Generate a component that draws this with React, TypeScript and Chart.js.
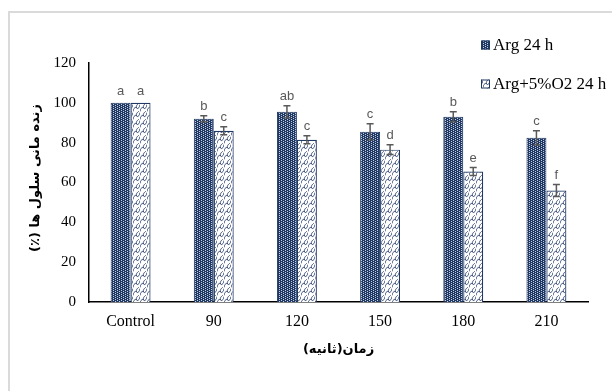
import React, { useEffect, useRef } from "react";
import { Chart, registerables } from "chart.js";

Chart.register(...registerables);

const categories = ["Control", "90", "120", "150", "180", "210"];
const seriesNames = ["Arg 24 h", "Arg+5%O2 24 h"];
const argValues = [100, 92, 95.5, 85.5, 93, 82.5];
const argO2Values = [100, 86, 81.5, 76.5, 65.5, 56];
const argErrors = [0, 1.5, 3, 4, 2.5, 3.5];
const argO2Errors = [0, 2, 2, 2.5, 2, 3];
const argLetters = ["a", "b", "ab", "c", "b", "c"];
const argO2Letters = ["a", "c", "c", "d", "e", "f"];
const yMin = 0;
const yMax = 120;
const yStep = 20;
const xTitle = "زمان(ثانیه)";
const yTitle = "زنده مانی سلول ها (٪)";

const NAVY = "#1f3864";

function makeDotPattern(ctx: CanvasRenderingContext2D) {
  const c = document.createElement("canvas");
  c.width = 4;
  c.height = 2;
  const g = c.getContext("2d")!;
  g.fillStyle = NAVY;
  g.fillRect(0, 0, 4, 2);
  g.fillStyle = "#c3cde0";
  g.fillRect(1, 0, 1, 1);
  g.fillRect(3, 1, 1, 1);
  return ctx.createPattern(c, "repeat")!;
}

function makeWavePattern(ctx: CanvasRenderingContext2D) {
  const c = document.createElement("canvas");
  c.width = 7;
  c.height = 8;
  const g = c.getContext("2d")!;
  g.fillStyle = "#ffffff";
  g.fillRect(0, 0, 7, 8);
  g.strokeStyle = "#2c4370";
  g.lineWidth = 0.9;
  g.beginPath();
  g.moveTo(0, 7.5);
  g.bezierCurveTo(0.5, 4, 2.5, 2.5, 3.5, 4);
  g.bezierCurveTo(4.5, 5.5, 6.5, 4, 7, 0.5);
  g.stroke();
  g.beginPath();
  g.moveTo(3.5, 4);
  g.bezierCurveTo(3, 2, 4, 0.5, 5, 0);
  g.stroke();
  g.beginPath();
  g.moveTo(5, 8);
  g.lineTo(6, 7.5);
  g.stroke();
  return ctx.createPattern(c, "repeat")!;
}

export default function App() {
  const ref = useRef<HTMLCanvasElement | null>(null);

  useEffect(() => {
    const canvas = ref.current!;
    const ctx = canvas.getContext("2d")!;
    const dotPattern = makeDotPattern(ctx);
    const wavePattern = makeWavePattern(ctx);
    const errors = [argErrors, argO2Errors];
    const letters = [argLetters, argO2Letters];
    const fills = [dotPattern, wavePattern];

    const decorPlugin = {
      id: "decor",
      afterDatasetsDraw(chart: any) {
        const c = chart.ctx as CanvasRenderingContext2D;
        const yScale = chart.scales.y;
        c.save();
        chart.data.datasets.forEach((ds: any, di: number) => {
          const meta = chart.getDatasetMeta(di);
          meta.data.forEach((bar: any, i: number) => {
            const v = ds.data[i] as number;
            const e = errors[di][i];
            const x = bar.x;
            const yTop = yScale.getPixelForValue(v + e);
            const yBot = yScale.getPixelForValue(v - e);
            if (e > 0) {
              c.strokeStyle = "#595959";
              c.lineWidth = 1.5;
              c.beginPath();
              c.moveTo(x, yTop);
              c.lineTo(x, yBot);
              c.moveTo(x - 3.5, yTop);
              c.lineTo(x + 3.5, yTop);
              c.moveTo(x - 3.5, yBot);
              c.lineTo(x + 3.5, yBot);
              c.stroke();
            }
            c.fillStyle = "#595959";
            c.font = "13px 'Liberation Sans', 'DejaVu Sans', sans-serif";
            c.textAlign = "center";
            c.textBaseline = "bottom";
            c.fillText(letters[di][i], x, yTop - (e > 0 ? 3 : 5));
          });
        });
        c.restore();
      },
      afterDraw(chart: any) {
        const c = chart.ctx as CanvasRenderingContext2D;
        const area = chart.chartArea;
        c.save();
        // legend
        const legendX = 481;
        const legendYs = [45, 84];
        c.font = "17px 'Liberation Serif', 'Times New Roman', serif";
        c.textBaseline = "middle";
        c.textAlign = "left";
        seriesNames.forEach((name, i) => {
          const y = legendYs[i];
          c.fillStyle = fills[i];
          c.fillRect(legendX, y - 4.5, 9, 9);
          c.strokeStyle = NAVY;
          c.lineWidth = 1;
          c.strokeRect(legendX + 0.5, y - 4, 8, 8);
          c.fillStyle = "#000";
          c.fillText(name, legendX + 12, y + 1);
        });
        // x title
        c.font = "bold 13px 'DejaVu Sans', sans-serif";
        c.direction = "rtl";
        c.textAlign = "center";
        c.textBaseline = "middle";
        c.fillStyle = "#000";
        c.fillText(xTitle, (area.left + area.right) / 2, 350);
        // y title
        c.translate(36, 178);
        c.rotate(-Math.PI / 2);
        c.fillText(yTitle, 0, 0);
        c.restore();
      },
    };

    const chart = new Chart(ctx, {
      type: "bar",
      data: {
        labels: categories,
        datasets: [
          {
            label: seriesNames[0],
            data: argValues,
            backgroundColor: dotPattern,
            borderColor: NAVY,
            borderWidth: 1,
            categoryPercentage: 0.48,
            barPercentage: 1.0,
          },
          {
            label: seriesNames[1],
            data: argO2Values,
            backgroundColor: wavePattern,
            borderColor: NAVY,
            borderWidth: 1.2,
            categoryPercentage: 0.48,
            barPercentage: 1.0,
          },
        ],
      },
      options: {
        responsive: false,
        animation: false,
        devicePixelRatio: 1,
        layout: { padding: { left: 0, top: 63, right: 24, bottom: 44 } },
        plugins: {
          legend: { display: false },
          tooltip: { enabled: false },
          title: { display: false },
        },
        scales: {
          x: {
            grid: { display: false, drawTicks: false },
            border: { display: true, color: "#000", width: 1.5 },
            ticks: {
              color: "#000",
              padding: 10,
              maxRotation: 0,
              autoSkip: false,
              font: { family: "'Liberation Serif', 'Times New Roman', serif", size: 16 },
            },
            afterFit(scale: any) {
              scale.height = 45;
            },
          },
          y: {
            min: yMin,
            max: yMax,
            grid: { display: false, drawTicks: false },
            border: { display: true, color: "#000", width: 1.5 },
            ticks: {
              stepSize: yStep,
              color: "#000",
              padding: 13,
              font: { family: "'Liberation Serif', 'Times New Roman', serif", size: 15 },
            },
            afterFit(scale: any) {
              scale.width = 89;
            },
          },
        },
      },
      plugins: [decorPlugin],
    } as any);

    return () => chart.destroy();
  }, []);

  return (
    <div style={{ position: "absolute", left: 0, top: 0, width: 612, height: 391, background: "#fff", overflow: "hidden" }}>
      <div
        style={{
          position: "absolute",
          left: 8,
          top: 11,
          width: 610,
          height: 390,
          borderLeft: "2px solid #dadada",
          borderTop: "2px solid #dadada",
        }}
      />
      <canvas ref={ref} width={612} height={391} style={{ position: "absolute", left: 0, top: 0, width: 612, height: 391 }} />
    </div>
  );
}
